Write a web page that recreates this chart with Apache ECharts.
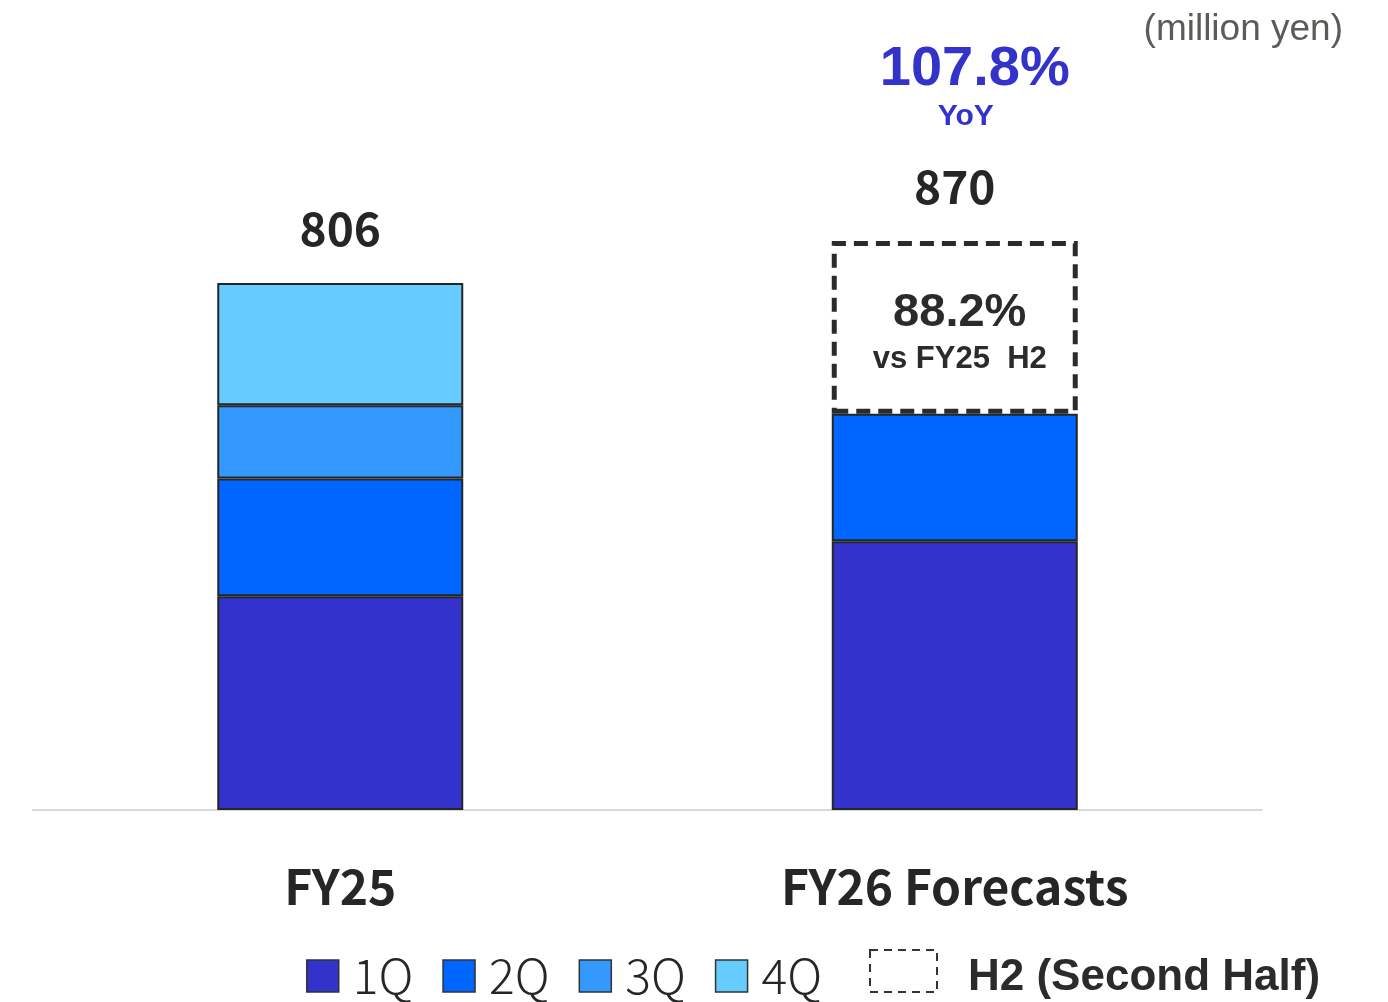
<!DOCTYPE html>
<html>
<head>
<meta charset="utf-8">
<title>Net sales by quarter</title>
<script src="https://cdn.jsdelivr.net/npm/echarts@6/dist/echarts.min.js"></script>
<style>
  html, body { margin: 0; padding: 0; background: #ffffff; }
  #chart { width: 1388px; height: 1002px; }
</style>
</head>
<body>
<div id="chart"></div>
<script>
// Fiscal years on the x axis
const categories = ['FY25', 'FY26 Forecasts'];

// Quarterly values (million yen); FY26 second half is a single forecast block
const q1 = [327, 411];
const q2 = [180, 195];
const q3 = [112, null];
const q4 = [187, null];
const h2 = [null, 264];

// Totals shown above each bar
const totals = [806, 870];

// Comparison annotations
const yoyText = '107.8%';
const h2RatioText = '88.2%';
const h2RatioCaption = 'vs FY25  H2';
const unitText = '(million yen)';

const colors = {
  q1: '#3333cc',
  q2: '#0066ff',
  q3: '#3399ff',
  q4: '#66ccff'
};

const cjkFont = '"Noto Sans CJK JP", "Noto Sans", sans-serif';
const sansFont = '"Liberation Sans", Arial, sans-serif';
const edge = '#262626';

function quarterSeries(name, data, color) {
  return {
    name: name,
    type: 'bar',
    stack: 'total',
    data: data,
    barWidth: 246,
    itemStyle: { color: color, borderColor: edge, borderWidth: 2 }
  };
}

const chart = echarts.init(document.getElementById('chart'), null, { renderer: 'canvas' });

chart.setOption({
  animation: false,
  backgroundColor: '#ffffff',
  grid: { left: 33, right: 126, top: 156, bottom: 192, containLabel: false },
  xAxis: {
    type: 'category',
    data: categories,
    axisTick: { show: false },
    axisLine: { lineStyle: { color: '#d9d9d9', width: 2 } },
    axisLabel: {
      margin: 53,
      fontSize: 48,
      lineHeight: 48,
      fontWeight: 'bold',
      fontFamily: cjkFont,
      color: '#262626'
    }
  },
  yAxis: {
    type: 'value',
    min: 0,
    max: 1000,
    show: false,
    splitLine: { show: false }
  },
  legend: [
    {
      left: 306,
      top: 952,
      padding: 0,
      itemWidth: 32,
      itemHeight: 32,
      itemGap: 29,
      icon: 'rect',
      selectedMode: false,
      data: ['1Q', '2Q', '3Q', '4Q'],
      itemStyle: { borderColor: '#333333', borderWidth: 1.5 },
      textStyle: {
        fontSize: 48,
        lineHeight: 46,
        fontFamily: cjkFont,
        fontWeight: 300,
        color: '#262626',
        padding: [0, 0, 0, 9]
      }
    },
    {
      left: 869,
      top: 942,
      padding: 0,
      itemWidth: 67,
      itemHeight: 42,
      icon: 'rect',
      selectedMode: false,
      data: ['H2'],
      itemStyle: {
        color: 'transparent',
        borderColor: '#333333',
        borderWidth: 2,
        borderType: [8, 6]
      },
      formatter: function () { return '{t|H2 (Second Half)}'; },
      textStyle: {
        color: '#2b2b2b',
        padding: [0, 0, 0, 26],
        rich: {
          t: {
            fontSize: 44,
            lineHeight: 46,
            fontFamily: sansFont,
            fontWeight: 'bold',
            color: '#2b2b2b',
            padding: [14, 0, 0, 0]
          }
        }
      }
    }
  ],
  graphic: [
    {
      type: 'text',
      right: 45,
      top: 11,
      style: {
        text: unitText,
        fontSize: 37,
        fontFamily: sansFont,
        fill: '#5e5a58'
      }
    }
  ],
  series: [
    quarterSeries('1Q', q1, colors.q1),
    quarterSeries('2Q', q2, colors.q2),
    quarterSeries('3Q', q3, colors.q3),
    quarterSeries('4Q', q4, colors.q4),
    {
      name: 'H2',
      type: 'bar',
      stack: 'total',
      data: h2,
      barWidth: 246,
      itemStyle: {
        color: 'rgba(255,255,255,0)',
        borderColor: '#2b2b2b',
        borderWidth: 5,
        borderType: [14, 8]
      },
      label: {
        show: true,
        position: 'inside',
        offset: [5, 9],
        formatter: function () {
          return '{big|' + h2RatioText + '}\n{small|' + h2RatioCaption + '}';
        },
        rich: {
          big: {
            fontSize: 47,
            lineHeight: 46,
            fontWeight: 'bold',
            fontFamily: sansFont,
            color: '#2b2b2b'
          },
          small: {
            fontSize: 31,
            lineHeight: 46,
            fontWeight: 'bold',
            fontFamily: sansFont,
            color: '#2b2b2b'
          }
        }
      }
    },
    {
      name: 'total',
      type: 'scatter',
      data: totals,
      symbolSize: 1,
      itemStyle: { color: 'transparent', opacity: 1 },
      silent: true,
      label: {
        show: true,
        position: 'top',
        distance: 30,
        formatter: function (p) {
          if (p.dataIndex === 1) {
            return '{yoy|' + yoyText + '}\n{yoyCap|YoY}\n{sp| }\n{tot|' + p.value + '}';
          }
          return '{tot|' + p.value + '}';
        },
        rich: {
          yoy: {
            fontSize: 56,
            lineHeight: 54,
            fontWeight: 'bold',
            fontFamily: sansFont,
            color: '#3333cc',
            padding: [0, 0, 0, 40]
          },
          yoyCap: {
            fontSize: 30,
            lineHeight: 40,
            fontWeight: 'bold',
            fontFamily: sansFont,
            color: '#3333cc',
            padding: [0, 0, 0, 22]
          },
          sp: {
            fontSize: 10,
            lineHeight: 26
          },
          tot: {
            fontSize: 46,
            lineHeight: 48,
            fontWeight: 'bold',
            fontFamily: cjkFont,
            color: '#262626'
          }
        }
      }
    }
  ]
});
</script>
</body>
</html>
